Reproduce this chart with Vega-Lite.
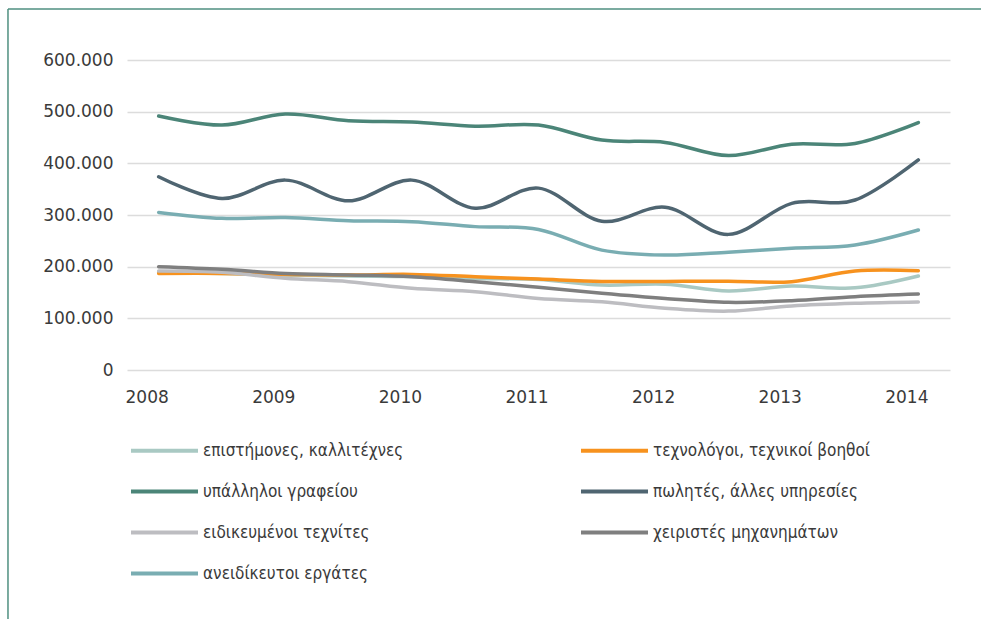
{
  "$schema": "https://vega.github.io/schema/vega-lite/v6.json",
  "width": 823,
  "height": 310,
  "autosize": {"type": "none"},
  "padding": {"left": 127, "top": 60, "right": 31, "bottom": 249},
  "background": "white",
  "config": {
    "view": {"stroke": null},
    "font": "DejaVu Sans"
  },
  "datasets": {
    "frame": [{"xv": 2006.81, "xe": 2014.7, "yt": 698700, "yb": -520000}]
  },
  "data": {
    "values": [
      {"s": "επιστήμονες, καλλιτέχνες", "t": 2008.0, "v": 189000},
      {"s": "επιστήμονες, καλλιτέχνες", "t": 2008.5, "v": 187000},
      {"s": "επιστήμονες, καλλιτέχνες", "t": 2009.0, "v": 184000},
      {"s": "επιστήμονες, καλλιτέχνες", "t": 2009.5, "v": 182000},
      {"s": "επιστήμονες, καλλιτέχνες", "t": 2010.0, "v": 181000},
      {"s": "επιστήμονες, καλλιτέχνες", "t": 2010.5, "v": 177000},
      {"s": "επιστήμονες, καλλιτέχνες", "t": 2011.0, "v": 175000},
      {"s": "επιστήμονες, καλλιτέχνες", "t": 2011.5, "v": 164500},
      {"s": "επιστήμονες, καλλιτέχνες", "t": 2012.0, "v": 166000},
      {"s": "επιστήμονες, καλλιτέχνες", "t": 2012.5, "v": 153000},
      {"s": "επιστήμονες, καλλιτέχνες", "t": 2013.0, "v": 162500},
      {"s": "επιστήμονες, καλλιτέχνες", "t": 2013.5, "v": 159000},
      {"s": "επιστήμονες, καλλιτέχνες", "t": 2014.0, "v": 182000},

      {"s": "τεχνολόγοι, τεχνικοί βοηθοί", "t": 2008.0, "v": 187000},
      {"s": "τεχνολόγοι, τεχνικοί βοηθοί", "t": 2008.5, "v": 187000},
      {"s": "τεχνολόγοι, τεχνικοί βοηθοί", "t": 2009.0, "v": 185000},
      {"s": "τεχνολόγοι, τεχνικοί βοηθοί", "t": 2009.5, "v": 184000},
      {"s": "τεχνολόγοι, τεχνικοί βοηθοί", "t": 2010.0, "v": 185000},
      {"s": "τεχνολόγοι, τεχνικοί βοηθοί", "t": 2010.5, "v": 180500},
      {"s": "τεχνολόγοι, τεχνικοί βοηθοί", "t": 2011.0, "v": 176000},
      {"s": "τεχνολόγοι, τεχνικοί βοηθοί", "t": 2011.5, "v": 171500},
      {"s": "τεχνολόγοι, τεχνικοί βοηθοί", "t": 2012.0, "v": 171500},
      {"s": "τεχνολόγοι, τεχνικοί βοηθοί", "t": 2012.5, "v": 172000},
      {"s": "τεχνολόγοι, τεχνικοί βοηθοί", "t": 2013.0, "v": 171000},
      {"s": "τεχνολόγοι, τεχνικοί βοηθοί", "t": 2013.5, "v": 191500},
      {"s": "τεχνολόγοι, τεχνικοί βοηθοί", "t": 2014.0, "v": 192000},

      {"s": "υπάλληλοι γραφείου", "t": 2008.0, "v": 491500},
      {"s": "υπάλληλοι γραφείου", "t": 2008.5, "v": 474000},
      {"s": "υπάλληλοι γραφείου", "t": 2009.0, "v": 495500},
      {"s": "υπάλληλοι γραφείου", "t": 2009.5, "v": 482500},
      {"s": "υπάλληλοι γραφείου", "t": 2010.0, "v": 480000},
      {"s": "υπάλληλοι γραφείου", "t": 2010.5, "v": 472000},
      {"s": "υπάλληλοι γραφείου", "t": 2011.0, "v": 474000},
      {"s": "υπάλληλοι γραφείου", "t": 2011.5, "v": 445000},
      {"s": "υπάλληλοι γραφείου", "t": 2012.0, "v": 440500},
      {"s": "υπάλληλοι γραφείου", "t": 2012.5, "v": 415000},
      {"s": "υπάλληλοι γραφείου", "t": 2013.0, "v": 437000},
      {"s": "υπάλληλοι γραφείου", "t": 2013.5, "v": 438500},
      {"s": "υπάλληλοι γραφείου", "t": 2014.0, "v": 479000},

      {"s": "πωλητές, άλλες υπηρεσίες", "t": 2008.0, "v": 374000},
      {"s": "πωλητές, άλλες υπηρεσίες", "t": 2008.5, "v": 332000},
      {"s": "πωλητές, άλλες υπηρεσίες", "t": 2009.0, "v": 367500},
      {"s": "πωλητές, άλλες υπηρεσίες", "t": 2009.5, "v": 327500},
      {"s": "πωλητές, άλλες υπηρεσίες", "t": 2010.0, "v": 367500},
      {"s": "πωλητές, άλλες υπηρεσίες", "t": 2010.5, "v": 313000},
      {"s": "πωλητές, άλλες υπηρεσίες", "t": 2011.0, "v": 352000},
      {"s": "πωλητές, άλλες υπηρεσίες", "t": 2011.5, "v": 288000},
      {"s": "πωλητές, άλλες υπηρεσίες", "t": 2012.0, "v": 315000},
      {"s": "πωλητές, άλλες υπηρεσίες", "t": 2012.5, "v": 262500},
      {"s": "πωλητές, άλλες υπηρεσίες", "t": 2013.0, "v": 322500},
      {"s": "πωλητές, άλλες υπηρεσίες", "t": 2013.5, "v": 329000},
      {"s": "πωλητές, άλλες υπηρεσίες", "t": 2014.0, "v": 406500},

      {"s": "ειδικευμένοι τεχνίτες", "t": 2008.0, "v": 191500},
      {"s": "ειδικευμένοι τεχνίτες", "t": 2008.5, "v": 189000},
      {"s": "ειδικευμένοι τεχνίτες", "t": 2009.0, "v": 177500},
      {"s": "ειδικευμένοι τεχνίτες", "t": 2009.5, "v": 171000},
      {"s": "ειδικευμένοι τεχνίτες", "t": 2010.0, "v": 158000},
      {"s": "ειδικευμένοι τεχνίτες", "t": 2010.5, "v": 151500},
      {"s": "ειδικευμένοι τεχνίτες", "t": 2011.0, "v": 138500},
      {"s": "ειδικευμένοι τεχνίτες", "t": 2011.5, "v": 132000},
      {"s": "ειδικευμένοι τεχνίτες", "t": 2012.0, "v": 119500},
      {"s": "ειδικευμένοι τεχνίτες", "t": 2012.5, "v": 114000},
      {"s": "ειδικευμένοι τεχνίτες", "t": 2013.0, "v": 124000},
      {"s": "ειδικευμένοι τεχνίτες", "t": 2013.5, "v": 129000},
      {"s": "ειδικευμένοι τεχνίτες", "t": 2014.0, "v": 131500},

      {"s": "χειριστές μηχανημάτων", "t": 2008.0, "v": 200000},
      {"s": "χειριστές μηχανημάτων", "t": 2008.5, "v": 195000},
      {"s": "χειριστές μηχανημάτων", "t": 2009.0, "v": 187000},
      {"s": "χειριστές μηχανημάτων", "t": 2009.5, "v": 184000},
      {"s": "χειριστές μηχανημάτων", "t": 2010.0, "v": 180500},
      {"s": "χειριστές μηχανημάτων", "t": 2010.5, "v": 171000},
      {"s": "χειριστές μηχανημάτων", "t": 2011.0, "v": 160000},
      {"s": "χειριστές μηχανημάτων", "t": 2011.5, "v": 148500},
      {"s": "χειριστές μηχανημάτων", "t": 2012.0, "v": 138500},
      {"s": "χειριστές μηχανημάτων", "t": 2012.5, "v": 131000},
      {"s": "χειριστές μηχανημάτων", "t": 2013.0, "v": 134000},
      {"s": "χειριστές μηχανημάτων", "t": 2013.5, "v": 142000},
      {"s": "χειριστές μηχανημάτων", "t": 2014.0, "v": 147000},

      {"s": "ανειδίκευτοι εργάτες", "t": 2008.0, "v": 305000},
      {"s": "ανειδίκευτοι εργάτες", "t": 2008.5, "v": 293500},
      {"s": "ανειδίκευτοι εργάτες", "t": 2009.0, "v": 295000},
      {"s": "ανειδίκευτοι εργάτες", "t": 2009.5, "v": 289000},
      {"s": "ανειδίκευτοι εργάτες", "t": 2010.0, "v": 287000},
      {"s": "ανειδίκευτοι εργάτες", "t": 2010.5, "v": 277500},
      {"s": "ανειδίκευτοι εργάτες", "t": 2011.0, "v": 272000},
      {"s": "ανειδίκευτοι εργάτες", "t": 2011.5, "v": 232000},
      {"s": "ανειδίκευτοι εργάτες", "t": 2012.0, "v": 222500},
      {"s": "ανειδίκευτοι εργάτες", "t": 2012.5, "v": 228000},
      {"s": "ανειδίκευτοι εργάτες", "t": 2013.0, "v": 235500},
      {"s": "ανειδίκευτοι εργάτες", "t": 2013.5, "v": 242000},
      {"s": "ανειδίκευτοι εργάτες", "t": 2014.0, "v": 271000}
    ]
  },
  "layer": [
    {
      "mark": {"type": "line", "interpolate": "cardinal", "strokeWidth": 3.5, "strokeCap": "round"},
      "encoding": {
        "x": {
          "field": "t", "type": "quantitative",
          "scale": {"domain": [2007.75, 2014.25], "nice": false, "zero": false},
          "axis": {
            "values": [2008, 2009, 2010, 2011, 2012, 2013, 2014],
            "format": "d", "title": null, "grid": false, "ticks": false, "domain": false,
            "labelFontSize": 17, "labelColor": "#3a3a3a", "labelPadding": 19, "labelOffset": -12,
            "labelFont": "DejaVu Sans"
          }
        },
        "y": {
          "field": "v", "type": "quantitative",
          "scale": {"domain": [0, 600000], "nice": false},
          "axis": {
            "values": [0, 100000, 200000, 300000, 400000, 500000, 600000],
            "labelExpr": "replace(format(datum.value, ',d'), /,/g, '.')",
            "title": null, "ticks": false, "domain": false,
            "gridColor": "#dcdcdc", "gridWidth": 1.5,
            "labelFontSize": 17, "labelColor": "#3a3a3a", "labelPadding": 14,
            "labelFont": "DejaVu Sans"
          }
        },
        "color": {
          "field": "s", "type": "nominal",
          "scale": {
            "domain": ["επιστήμονες, καλλιτέχνες", "τεχνολόγοι, τεχνικοί βοηθοί", "υπάλληλοι γραφείου", "πωλητές, άλλες υπηρεσίες", "ειδικευμένοι τεχνίτες", "χειριστές μηχανημάτων", "ανειδίκευτοι εργάτες"],
            "range": ["#a9c9c3", "#f7921e", "#4b8578", "#4f6571", "#bdbdc1", "#7f7f7f", "#79adb2"]
          },
          "legend": {
            "title": null, "orient": "none", "legendX": 24, "legendY": 377,
            "direction": "horizontal", "columns": 2, "columnPadding": 168, "rowPadding": 19,
            "symbolType": "M-3,0H3", "symbolSize": 499, "symbolStrokeWidth": 4,
            "labelFontSize": 17, "labelFont": "DejaVu Sans Condensed", "labelColor": "#3a3a3a",
            "labelOffset": 25, "labelLimit": 400
          }
        }
      }
    },
    {
      "data": {"name": "frame"},
      "mark": {"type": "rule", "color": "#4f8f80", "strokeWidth": 1.5, "clip": false},
      "encoding": {"x": {"field": "xv", "type": "quantitative"}, "y": {"field": "yt", "type": "quantitative"}, "y2": {"field": "yb"}}
    },
    {
      "data": {"name": "frame"},
      "mark": {"type": "rule", "color": "#4f8f80", "strokeWidth": 1.5, "clip": false},
      "encoding": {"x": {"field": "xv", "type": "quantitative"}, "x2": {"field": "xe"}, "y": {"field": "yt", "type": "quantitative"}}
    }
  ]
}
